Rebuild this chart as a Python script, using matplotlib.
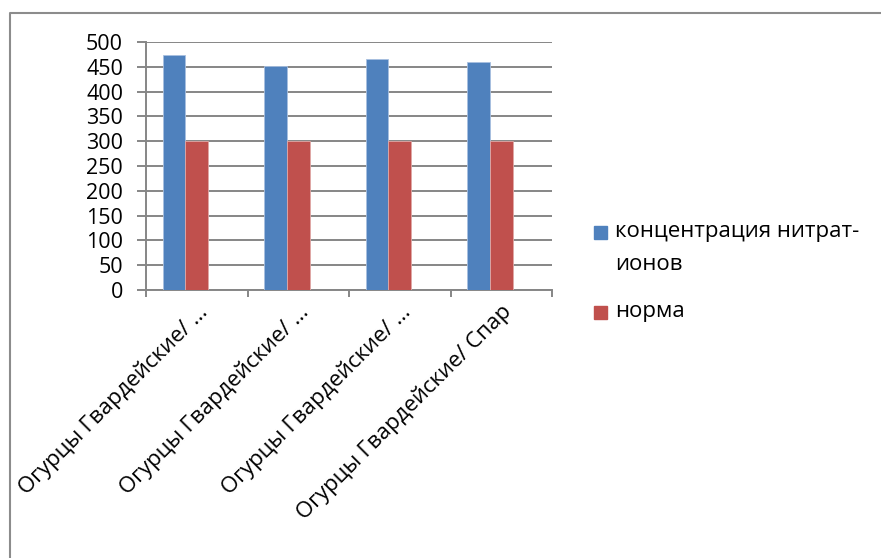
import matplotlib
matplotlib.use("Agg")
import matplotlib.pyplot as plt
from matplotlib.lines import Line2D
from matplotlib.patches import Rectangle
import numpy as np

plt.rcParams['font.family'] = ['Open Sans', 'DejaVu Sans']

categories = ["Огурцы Гвардейские/ …", "Огурцы Гвардейские/ …",
              "Огурцы Гвардейские/ …", "Огурцы Гвардейские/ Спар"]
nitrate = [474, 451, 465, 460]
norm = [300, 300, 300, 300]
series_labels = [["концентрация нитрат-", "ионов"], ["норма"]]
series_colors = ["#4F81BD", "#C0504D"]
yticks = list(range(0, 501, 50))

W, H = 881, 558
fig = plt.figure(figsize=(W / 100, H / 100), dpi=100)
ax = fig.add_axes([146 / W, 1 - 290 / H, 406 / W, 248 / H])

x = np.arange(len(categories))
w = 0.222
ax.bar(x - w, nitrate, w, color=series_colors[0], edgecolor="#a8c0e0", linewidth=0.6, zorder=3)
ax.bar(x, norm, w, color=series_colors[1], edgecolor="#e0a8a6", linewidth=0.6, zorder=3)
ax.set_xlim(-0.5, len(categories) - 0.5)
ax.set_ylim(0, 500)

grid_col = "#868686"
ax.set_yticks(yticks)
ax.set_yticklabels([str(v) for v in yticks], fontsize=15.5)
ax.yaxis.grid(True, color=grid_col, linewidth=1.4, zorder=0)
ax.set_axisbelow(True)
for side in ("top", "right"):
    ax.spines[side].set_visible(False)
for side in ("left", "bottom"):
    ax.spines[side].set_color(grid_col)
    ax.spines[side].set_linewidth(1.4)
ax.tick_params(axis="y", length=6.5, width=1.4, color=grid_col, pad=10)

# category ticks sit on the boundaries, labels on the centers
ax.set_xticks(x)
ax.set_xticks(np.arange(len(categories) + 1) - 0.5, minor=True)
ax.tick_params(axis="x", which="major", length=0, pad=8)
ax.tick_params(axis="x", which="minor", length=5, width=1.4, color=grid_col)
ax.set_xticklabels(categories, rotation=45, ha="right", va="top",
                   rotation_mode="anchor", fontsize=16)

# legend drawn by hand so the swatch lines up with the first text row
rows = [[232, 265], [312]]
for lines, col, ys in zip(series_labels, series_colors, rows):
    fig.patches.append(Rectangle((594 / W, 1 - (ys[0] + 7) / H), 13 / W, 13 / H,
                                 transform=fig.transFigure, color=col))
    for line, ty in zip(lines, ys):
        fig.text(615 / W, 1 - ty / H, line, fontsize=16, va="center", ha="left")

# outer chart frame
fig.add_artist(Line2D([9.5 / W, 9.5 / W, 1], [0, 1 - 12.5 / H, 1 - 12.5 / H],
                      transform=fig.transFigure, color="#8c8c8c", linewidth=1.5))

fig.savefig("out.png", dpi=100)
